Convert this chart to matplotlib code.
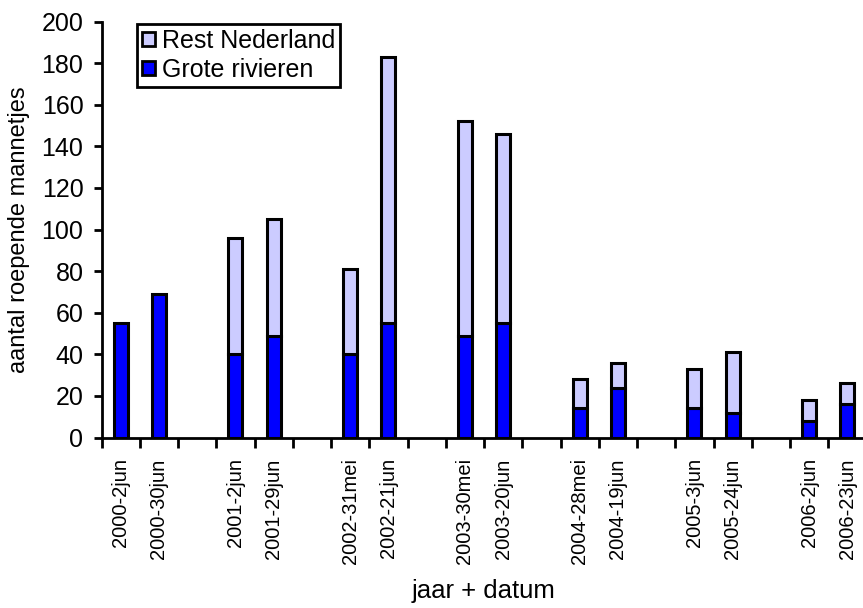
import matplotlib
matplotlib.use("Agg")
import matplotlib.pyplot as plt
import numpy as np
from matplotlib.patches import Patch

plt.rcParams['font.family'] = ['Liberation Sans', 'DejaVu Sans']

# Survey dates (blank slots separate the years)
categories = ["2000-2jun", "2000-30jun", "",
              "2001-2jun", "2001-29jun", "",
              "2002-31mei", "2002-21jun", "",
              "2003-30mei", "2003-20jun", "",
              "2004-28mei", "2004-19jun", "",
              "2005-3jun", "2005-24jun", "",
              "2006-2jun", "2006-23jun"]

# Calling males along the large rivers
grote_rivieren = [55, 69, 0,
                  40, 49, 0,
                  40, 55, 0,
                  49, 55, 0,
                  14, 24, 0,
                  14, 12, 0,
                  8, 16]

# Calling males in the rest of the Netherlands
rest_nederland = [0, 0, 0,
                  56, 56, 0,
                  41, 128, 0,
                  103, 91, 0,
                  14, 12, 0,
                  19, 29, 0,
                  10, 10]

y_ticks = [0, 20, 40, 60, 80, 100, 120, 140, 160, 180, 200]

fig = plt.figure(figsize=(8.63, 6.08), dpi=100)
ax = fig.add_axes([101.5 / 863, 170.5 / 608, 765 / 863, 416 / 608])

x = np.arange(len(categories))
gr = np.array(grote_rivieren, dtype=float)
rn = np.array(rest_nederland, dtype=float)
has_bar = (gr + rn) > 0

blue = "#0000FF"
lilac = "#CCCCFF"
bw = 0.37

ax.bar(x[has_bar], gr[has_bar], width=bw, color=blue, edgecolor="black",
       linewidth=2.2, zorder=2)
mask_rn = rn > 0
ax.bar(x[mask_rn], rn[mask_rn], bottom=gr[mask_rn], width=bw, color=lilac,
       edgecolor="black", linewidth=2.2, zorder=2)

ax.set_xlim(-0.5, len(categories) - 0.5)
ax.set_ylim(0, 200)
ax.set_yticks(y_ticks)
ax.set_yticklabels([str(v) for v in y_ticks], fontsize=18)

# category labels sit under the bars, tick marks sit between categories
ax.set_xticks(x)
ax.set_xticklabels(categories, rotation=90, fontsize=14.5, va="top", ha="center")
ax.tick_params(axis="x", which="major", length=0, pad=15)
ax.set_xticks(np.arange(-0.5, len(categories), 1.0), minor=True)
ax.tick_params(axis="x", which="minor", length=7, width=2, direction="out")
ax.tick_params(axis="y", length=6, width=2, direction="out", pad=7)

for side in ("top", "right"):
    ax.spines[side].set_visible(False)
for side in ("left", "bottom"):
    ax.spines[side].set_linewidth(2)

ax.set_ylabel("aantal roepende mannetjes", fontsize=17, labelpad=10)
ax.yaxis.set_label_coords(-0.094, 0.5)

# axis title placed below the rotated date labels
fig.text((101.5 + 382.5) / 863, 1 - 591 / 608, "jaar + datum", fontsize=18.5,
         ha="center", va="center")

handles = [Patch(facecolor=lilac, edgecolor="black", linewidth=2, label="Rest Nederland"),
           Patch(facecolor=blue, edgecolor="black", linewidth=2, label="Grote rivieren")]
leg = ax.legend(handles=handles, loc="upper left", bbox_to_anchor=(0.04, 1.007),
                fontsize=18, frameon=True, fancybox=False, framealpha=1,
                handlelength=0.5, handleheight=0.5, handletextpad=0.3,
                borderpad=0.2, labelspacing=0.2, borderaxespad=0.2)
leg.get_frame().set_edgecolor("black")
leg.get_frame().set_linewidth(2)

fig.savefig("out.png", dpi=100)
